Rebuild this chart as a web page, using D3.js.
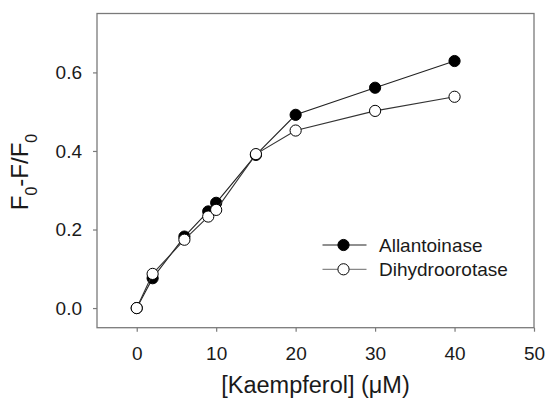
<!DOCTYPE html>
<html>
<head>
<meta charset="utf-8">
<script src="https://cdn.jsdelivr.net/npm/d3@7"></script>
<style>
  html, body { margin: 0; padding: 0; background: #fff; }
  svg { display: block; font-family: "Liberation Sans", Arial, sans-serif; }
</style>
</head>
<body>
<svg id="chart" width="547" height="403"></svg>
<script>
// Kaempferol concentration (µM)
const concentrations = [0, 2, 6, 9, 10, 15, 20, 30, 40];
// Fluorescence quenching (F0-F)/F0 for each enzyme
const allantoinase = [0, 0.076, 0.182, 0.246, 0.268, 0.39, 0.492, 0.561, 0.629];
const dihydroorotase = [0, 0.087, 0.174, 0.233, 0.25, 0.392, 0.452, 0.502, 0.538];
const seriesNames = ["Allantoinase", "Dihydroorotase"];
const xTicks = [0, 10, 20, 30, 40, 50];
const yTicks = [0, 0.2, 0.4, 0.6];

const svg = d3.select("#chart");
const plotLeft = 97, plotRight = 534, plotTop = 13.5, plotBottom = 327.7;

const x = d3.scaleLinear().domain([-5, 50]).range([plotLeft, plotRight]);
const y = d3.scaleLinear().domain([-0.05, 0.75]).range([plotBottom, plotTop]);

const axisColor = "#7a7a7a";
const textColor = "#1a1a1a";

// plot frame
svg.append("rect")
  .attr("x", plotLeft).attr("y", plotTop)
  .attr("width", plotRight - plotLeft).attr("height", plotBottom - plotTop)
  .attr("fill", "none").attr("stroke", axisColor).attr("stroke-width", 1.3);

// x axis
const xAxis = svg.append("g")
  .attr("transform", `translate(0,${plotBottom})`)
  .call(d3.axisBottom(x).tickValues(xTicks).tickSize(4).tickPadding(15).tickFormat(d3.format("d")));
xAxis.select(".domain").remove();
xAxis.selectAll(".tick line").attr("stroke", axisColor).attr("stroke-width", 1.2);
xAxis.selectAll(".tick text").attr("fill", textColor).style("font-size", "19px")
  .style("font-family", "Liberation Sans, Arial, sans-serif");

// y axis
const yAxis = svg.append("g")
  .attr("transform", `translate(${plotLeft},0)`)
  .call(d3.axisLeft(y).tickValues(yTicks).tickSize(4).tickPadding(11).tickFormat(d3.format(".1f")));
yAxis.select(".domain").remove();
yAxis.selectAll(".tick line").attr("stroke", axisColor).attr("stroke-width", 1.2);
yAxis.selectAll(".tick text").attr("fill", textColor).style("font-size", "19px")
  .style("font-family", "Liberation Sans, Arial, sans-serif");

// axis titles
svg.append("text")
  .attr("x", (plotLeft + plotRight) / 2).attr("y", 393)
  .attr("text-anchor", "middle").attr("fill", textColor)
  .style("font-size", "23.5px")
  .text("[Kaempferol] (\u03BCM)");

const yTitle = svg.append("text")
  .attr("transform", "translate(28,172) rotate(-90)")
  .attr("text-anchor", "middle").attr("fill", textColor)
  .style("font-size", "24px");
yTitle.append("tspan").text("F");
yTitle.append("tspan").attr("baseline-shift", "sub").style("font-size", "16px").text("0");
yTitle.append("tspan").text("-F/F");
yTitle.append("tspan").attr("baseline-shift", "sub").style("font-size", "16px").text("0");

// series
const series = [
  { name: seriesNames[0], values: allantoinase, fill: "#000", line: "#222" },
  { name: seriesNames[1], values: dihydroorotase, fill: "#fff", line: "#333" }
];

const line = d3.line().x(d => x(d[0])).y(d => y(d[1]));

series.forEach(s => {
  const pts = concentrations.map((c, i) => [c, s.values[i]]);
  svg.append("path").datum(pts)
    .attr("d", line).attr("fill", "none")
    .attr("stroke", s.line).attr("stroke-width", 1.1);
  svg.append("g").selectAll("circle").data(pts).join("circle")
    .attr("cx", d => x(d[0])).attr("cy", d => y(d[1]))
    .attr("r", 5.6)
    .attr("fill", s.fill).attr("stroke", "#000").attr("stroke-width", 1);
});

// legend
const legendLine = ["#222", "#888"];
series.forEach((s, i) => {
  const ly = 245 + i * 24.3;
  svg.append("line")
    .attr("x1", 322.5).attr("x2", 366.5).attr("y1", ly).attr("y2", ly)
    .attr("stroke", legendLine[i]).attr("stroke-width", 1.2);
  svg.append("circle")
    .attr("cx", 343.5).attr("cy", ly).attr("r", 5.6)
    .attr("fill", s.fill).attr("stroke", "#000").attr("stroke-width", 1);
  svg.append("text")
    .attr("x", 379).attr("y", ly + 6.8)
    .attr("fill", textColor).style("font-size", "19px")
    .text(s.name);
});
</script>
</body>
</html>
